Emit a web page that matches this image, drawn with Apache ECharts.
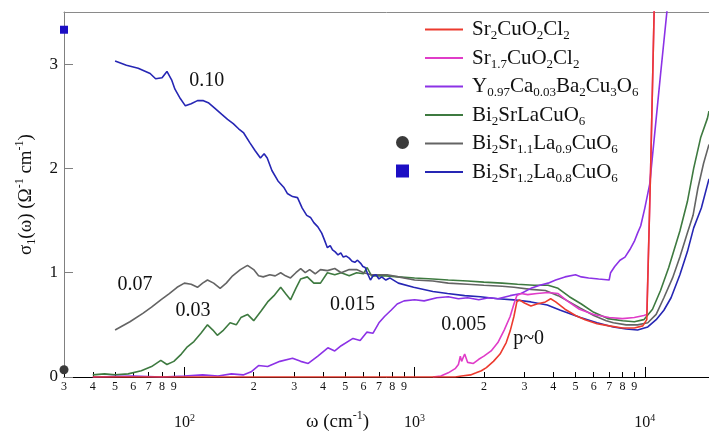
<!DOCTYPE html>
<html>
<head>
<meta charset="utf-8">
<script src="https://cdn.jsdelivr.net/npm/echarts@6/dist/echarts.min.js"></script>
<style>
  html, body { margin: 0; padding: 0; background: #fff; }
  #chart { width: 709px; height: 435px; }
</style>
</head>
<body>
<div id="chart"></div>
<script>
// axis ranges and tick values
const xMin = 30, xMax = 19000;
const majorTicks = [100, 1000, 10000];
const minorTicks = [30, 40, 50, 60, 70, 80, 90,
  200, 300, 400, 500, 600, 700, 800, 900,
  2000, 3000, 4000, 5000, 6000, 7000, 8000, 9000];
const yTicks = [0, 1, 2, 3];

const names = ['Sr2CuO2Cl2', 'Sr1.7CuO2Cl2', 'Y0.97Ca0.03Ba2Cu3O6',
  'Bi2SrLaCuO6', 'Bi2Sr1.1La0.9CuO6', 'Bi2Sr1.2La0.8CuO6'];
const colors = ['#ec3a2e', '#e03cc8', '#8c32e6', '#3e7a40', '#646464', '#2626b4'];

// sigma_1(omega) curves, [omega (cm^-1), sigma]
const sr2 = [[40,0],[1500,0],[1600,0.01],[1750,0.02],[1850,0.04],[1950,0.06],[2050,0.09],
  [2200,0.15],[2350,0.22],[2500,0.33],[2600,0.44],[2700,0.58],[2780,0.72],[2850,0.74],
  [3000,0.71],[3200,0.68],[3400,0.7],[3700,0.72],[3900,0.75],[4100,0.72],[4500,0.65],
  [5000,0.59],[5500,0.55],[6200,0.51],[7000,0.49],[8000,0.47],[9000,0.47],[9800,0.49],
  [10200,0.55],[10600,2.0],[11000,3.6]];
const sr17 = [[1200,0],[1300,0.01],[1400,0.04],[1500,0.08],[1550,0.12],[1580,0.2],[1600,0.15],
  [1650,0.22],[1700,0.14],[1800,0.13],[1900,0.17],[2000,0.2],[2150,0.25],[2300,0.33],
  [2450,0.45],[2600,0.58],[2700,0.7],[2780,0.78],[2900,0.8],[3100,0.79],[3400,0.8],
  [3800,0.81],[4200,0.8],[4600,0.73],[5200,0.65],[6000,0.6],[7000,0.57],[8000,0.56],
  [9000,0.57],[9900,0.59],[10200,0.6],[10600,2.0],[11000,3.6]];
const y097 = [[40,0],[60,0.01],[80,0],[100,0.01],[120,0.02],[140,0.01],[160,0.03],[180,0.02],
  [195,0.05],[210,0.11],[230,0.1],[260,0.15],[295,0.18],[320,0.15],[345,0.13],[380,0.2],
  [420,0.28],[450,0.25],[480,0.3],[540,0.37],[580,0.35],[620,0.43],[660,0.42],[700,0.52],
  [740,0.58],[790,0.64],[840,0.7],[900,0.73],[1000,0.74],[1100,0.73],[1250,0.76],[1400,0.77],
  [1550,0.75],[1700,0.76],[1900,0.74],[2100,0.76],[2300,0.75],[2600,0.78],[2900,0.8],
  [3200,0.85],[3500,0.88],[3800,0.9],[4100,0.93],[4500,0.96],[5000,0.98],[5300,0.96],
  [5700,0.95],[6300,0.94],[7000,0.93],[7100,1.0],[7400,1.06],[7800,1.12],[8200,1.15],
  [8600,1.22],[9000,1.3],[9300,1.38],[9600,1.45],[10000,1.62],[10500,1.85],[11000,2.3],
  [11700,2.9],[12600,3.6]];
const bi2srla = [[40,0.02],[45,0.03],[50,0.02],[57,0.03],[65,0.06],[72,0.1],[79,0.16],[84,0.12],
  [90,0.15],[97,0.22],[103,0.29],[110,0.34],[118,0.42],[126,0.5],[133,0.45],[139,0.4],
  [148,0.45],[158,0.52],[168,0.5],[176,0.57],[188,0.6],[200,0.54],[215,0.63],[230,0.72],
  [245,0.78],[262,0.86],[275,0.8],[289,0.74],[305,0.85],[320,0.94],[342,0.96],[365,0.9],
  [390,0.9],[418,1.0],[450,0.98],[480,1.0],[520,0.97],[560,1.0],[600,0.99],[622,1.05],
  [650,0.97],[690,0.97],[750,0.97],[850,0.96],[1000,0.95],[1200,0.94],[1400,0.93],
  [1700,0.92],[2000,0.91],[2400,0.9],[2800,0.89],[3300,0.88],[3800,0.88],[4200,0.85],
  [4700,0.77],[5300,0.7],[6000,0.62],[6900,0.56],[8000,0.54],[9000,0.53],[9900,0.55],
  [10800,0.65],[11700,0.83],[12700,1.05],[14200,1.4],[15300,1.68],[16300,2.0],[17500,2.3],
  [18700,2.48],[19000,2.55]];
const bi211 = [[50,0.45],[58,0.53],[66,0.61],[72,0.67],[79,0.74],[86,0.8],[93,0.86],[100,0.9],
  [107,0.89],[114,0.86],[120,0.9],[126,0.93],[134,0.9],[143,0.85],[152,0.9],[162,0.97],
  [175,1.03],[188,1.07],[200,1.03],[210,0.97],[220,0.96],[235,0.98],[248,0.97],[262,1.0],
  [275,0.97],[289,0.95],[305,1.0],[320,1.04],[335,1.0],[350,1.03],[370,0.99],[390,1.03],
  [418,1.02],[450,1.04],[480,1.0],[520,1.03],[560,1.03],[600,1.0],[650,0.98],[700,0.98],
  [760,0.98],[850,0.96],[1000,0.93],[1200,0.92],[1400,0.9],[1700,0.89],[2000,0.88],
  [2400,0.87],[2700,0.86],[3200,0.84],[3700,0.83],[4200,0.78],[4700,0.72],[5250,0.66],
  [6000,0.59],[6800,0.54],[7300,0.52],[8300,0.5],[9300,0.5],[10300,0.52],[11200,0.6],
  [12100,0.76],[13200,0.95],[14200,1.15],[15300,1.38],[16200,1.55],[17000,1.81],
  [18000,2.05],[19000,2.23]];
const bi212 = [[50,3.03],[56,2.99],[63,2.96],[71,2.91],[75,2.86],[80,2.87],[84,2.93],[88,2.85],
  [91,2.76],[96,2.67],[101,2.6],[107,2.62],[114,2.65],[121,2.65],[127,2.63],[135,2.58],
  [145,2.52],[154,2.47],[163,2.43],[172,2.38],[181,2.34],[192,2.25],[203,2.17],[214,2.1],
  [222,2.14],[229,2.1],[240,1.98],[255,1.88],[270,1.82],[280,1.76],[295,1.73],[310,1.72],
  [325,1.62],[340,1.55],[353,1.53],[365,1.48],[380,1.44],[395,1.38],[405,1.32],[418,1.24],
  [430,1.26],[440,1.22],[452,1.2],[465,1.17],[478,1.19],[490,1.15],[505,1.16],[520,1.14],
  [535,1.11],[550,1.1],[565,1.12],[583,1.09],[596,1.06],[610,1.05],[625,0.99],[643,0.93],
  [660,0.97],[680,0.98],[700,0.94],[720,0.96],[750,0.93],[780,0.95],[850,0.9],[990,0.86],
  [1200,0.82],[1390,0.8],[1650,0.78],[1930,0.77],[2300,0.75],[2700,0.74],[3200,0.72],
  [3770,0.69],[4300,0.64],[5250,0.57],[6200,0.52],[7300,0.48],[8300,0.46],[9300,0.45],
  [10300,0.48],[11200,0.55],[12100,0.64],[13000,0.76],[14200,0.98],[15300,1.2],
  [16300,1.43],[17600,1.62],[19000,1.9]];

// dc values at the left edge
const dc211 = [[30, 0.07]];
const dc212 = [[30, 3.33]];

// hole doping annotations [omega, sigma, text]
const notes = [[125, 2.84, '0.10'], [61, 0.88, '0.07'], [109, 0.64, '0.03'],
  [537, 0.69, '0.015'], [1633, 0.5, '0.005'], [3130, 0.37, 'p~0']];

const serif = '"Liberation Serif", "DejaVu Serif", serif';
const ink = '#111';

function chem(name) {
  return name.replace(/(\d+(?:\.\d+)?)|([^\d]+)/g, (m, num, txt) =>
    num ? '{s|' + num + '}' : '{n|' + txt + '}');
}

const curves = [sr2, sr17, y097, bi2srla, bi211, bi212];
const drawOrder = [3, 4, 5, 2, 1, 0];

const lineSeries = drawOrder.map(i => ({
  name: names[i],
  type: 'line',
  data: curves[i],
  showSymbol: false,
  symbol: 'none',
  color: colors[i],
  lineStyle: { width: 1.6, color: colors[i] },
  z: 2 + drawOrder.indexOf(i)
}));

const chart = echarts.init(document.getElementById('chart'), null, { renderer: 'canvas' });

chart.setOption({
  animation: false,
  backgroundColor: '#fff',
  grid: { left: 64, right: 0, top: 12, bottom: 58 },
  xAxis: [{
    type: 'log', min: xMin, max: xMax, position: 'bottom',
    axisLine: { lineStyle: { color: '#000', width: 1 } },
    axisTick: { inside: true, length: 10, customValues: majorTicks, lineStyle: { color: '#000' } },
    axisLabel: {
      customValues: majorTicks, margin: 36, color: ink,
      formatter: v => '{b|10}{p|' + Math.round(Math.log10(v)) + '}',
      rich: {
        b: { fontFamily: serif, fontSize: 16, color: ink, lineHeight: 20 },
        p: { fontFamily: serif, fontSize: 10, color: ink, verticalAlign: 'top', lineHeight: 20 }
      }
    },
    splitLine: { show: false }
  }, {
    type: 'log', min: xMin, max: xMax, position: 'bottom',
    axisLine: { show: false },
    axisTick: { inside: true, length: 5, customValues: minorTicks, lineStyle: { color: '#000' } },
    axisLabel: {
      customValues: minorTicks, margin: 4, color: ink, fontFamily: serif, fontSize: 12,
      formatter: v => String(Math.round(v / Math.pow(10, Math.floor(Math.log10(v) + 1e-9))))
    },
    splitLine: { show: false }
  }, {
    type: 'value', min: 0, max: 1, position: 'top',
    axisLine: { show: true, lineStyle: { color: '#8a8a8a' } },
    axisTick: { show: false }, axisLabel: { show: false }, splitLine: { show: false }
  }],
  yAxis: {
    type: 'value', min: 0, max: 3.5,
    axisLine: { show: true, lineStyle: { color: '#808080' } },
    axisTick: { show: true, inside: true, length: 9, customValues: yTicks, lineStyle: { color: '#808080' } },
    axisLabel: { customValues: yTicks, margin: 6, color: ink, fontFamily: serif, fontSize: 17 },
    splitLine: { show: false },
    name: '{n|σ}{s|1}{n|(ω) (Ω}{p|-1}{n| cm}{p|-1}{n|)}',
    nameLocation: 'middle', nameGap: 26, nameRotate: 90,
    nameTextStyle: {
      rich: {
        n: { fontFamily: serif, fontSize: 19, color: ink, lineHeight: 24 },
        s: { fontFamily: serif, fontSize: 12, color: ink, verticalAlign: 'bottom', lineHeight: 24 },
        p: { fontFamily: serif, fontSize: 12, color: ink, verticalAlign: 'top', lineHeight: 24 }
      }
    }
  },
  legend: [{
    orient: 'vertical', left: 420, top: 14, itemWidth: 38, itemHeight: 2, itemGap: 5,
    icon: 'rect', data: names,
    formatter: n => chem(n),
    textStyle: {
      padding: [0, 0, 0, 4],
      rich: {
        n: { fontFamily: serif, fontSize: 21, color: ink, lineHeight: 26 },
        s: { fontFamily: serif, fontSize: 13, color: ink, verticalAlign: 'bottom', lineHeight: 26 }
      }
    }
  }, {
    orient: 'vertical', left: 391, top: 131, itemWidth: 13, itemHeight: 13, itemGap: 15.5,
    data: [{ name: 'dc211', icon: 'circle' }, { name: 'dc212', icon: 'rect' }],
    formatter: () => '',
    textStyle: { fontSize: 1, lineHeight: 1 }
  }],
  graphic: [{
    type: 'text', left: 306, top: 410,
    style: {
      text: '{n|ω (cm}{p|-1}{n|)}',
      rich: {
        n: { fontFamily: serif, fontSize: 19, fill: ink, lineHeight: 24 },
        p: { fontFamily: serif, fontSize: 12, fill: ink, verticalAlign: 'top', lineHeight: 24 }
      }
    }
  }],
  series: lineSeries.concat([{
    name: 'dc211', type: 'scatter', data: dc211, symbol: 'circle', symbolSize: 9,
    color: '#3a3a3a', itemStyle: { opacity: 1 }, clip: false, z: 10
  }, {
    name: 'dc212', type: 'scatter', data: dc212, symbol: 'rect', symbolSize: 8,
    color: '#1c0ec4', itemStyle: { opacity: 1 }, clip: false, z: 10
  }, {
    name: 'notes', type: 'scatter', data: notes, symbolSize: 0, silent: true, z: 11,
    itemStyle: { opacity: 0 },
    label: {
      show: true, position: 'inside', formatter: p => p.data[2],
      fontFamily: serif, fontSize: 20, color: ink, textBorderWidth: 0, opacity: 1
    }
  }])
});
</script>
</body>
</html>
